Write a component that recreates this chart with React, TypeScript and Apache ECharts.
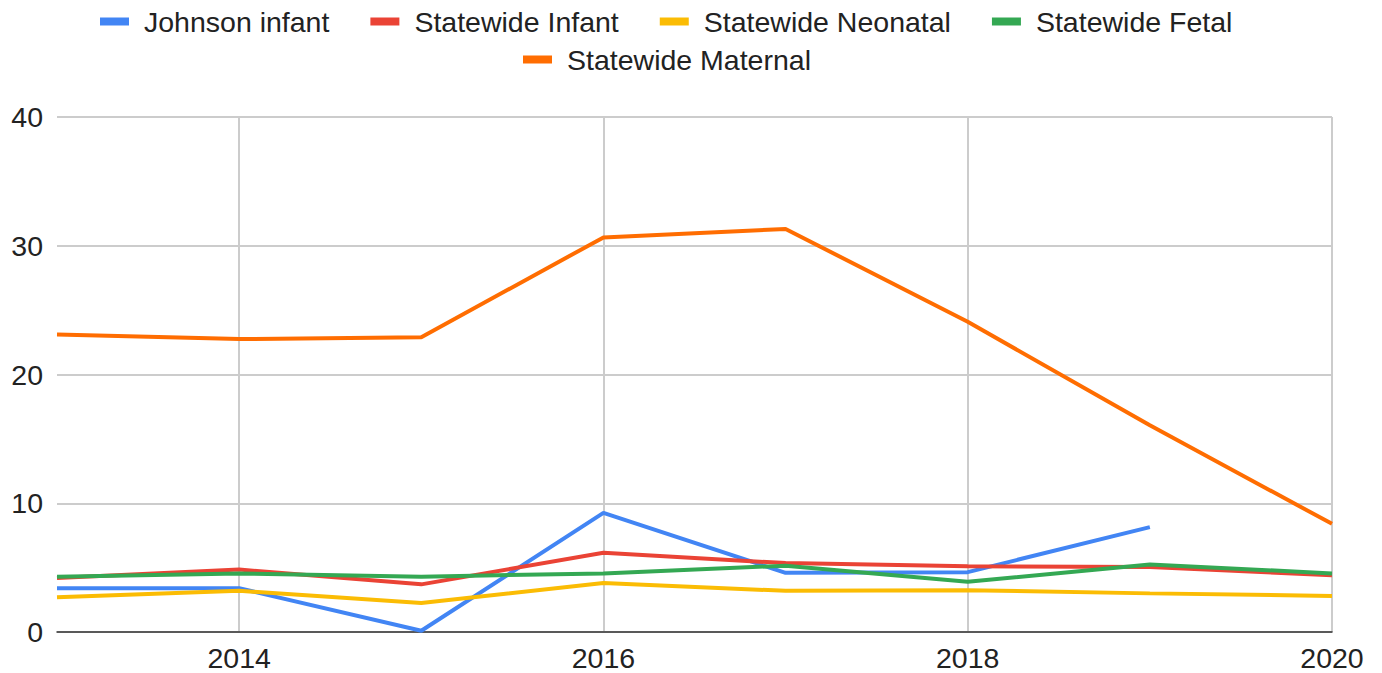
import React, { useEffect, useRef } from "react";
import * as echarts from "echarts";

const years = ["2013", "2014", "2015", "2016", "2017", "2018", "2019", "2020"];
const johnsonInfant = [3.4, 3.4, 0.1, 9.25, 4.6, 4.65, 8.15, null];
const statewideInfant = [4.2, 4.85, 3.7, 6.15, 5.35, 5.1, 5.05, 4.4];
const statewideNeonatal = [2.7, 3.2, 2.25, 3.8, 3.2, 3.25, 3.0, 2.8];
const statewideFetal = [4.3, 4.55, 4.3, 4.55, 5.15, 3.9, 5.25, 4.55];
const statewideMaternal = [23.1, 22.75, 22.9, 30.65, 31.3, 24.1, 16.05, 8.4];

const seriesNames = [
  "Johnson infant",
  "Statewide Infant",
  "Statewide Neonatal",
  "Statewide Fetal",
  "Statewide Maternal",
];
const seriesData = [johnsonInfant, statewideInfant, statewideNeonatal, statewideFetal, statewideMaternal];
const colors = ["#4285F4", "#EA4335", "#FBBC04", "#34A853", "#FF6D01"];

export default function App() {
  const ref = useRef<HTMLDivElement>(null);
  useEffect(() => {
    if (!ref.current) return;
    const chart = echarts.init(ref.current, null, { renderer: "svg" });
    const font = "Arial, 'Liberation Sans', sans-serif";
    const legendText = { color: "#222", fontSize: 28.5, fontFamily: font, padding: [0, 0, 0, 10] };
    chart.setOption({
      animation: false,
      color: colors,
      legend: [
        {
          data: seriesNames.slice(0, 4),
          left: 95,
          top: 2,
          itemWidth: 29,
          itemHeight: 8,
          itemGap: 41,
          icon: "rect",
          textStyle: legendText,
        },
        {
          data: seriesNames.slice(4),
          left: 518,
          top: 40,
          itemWidth: 29,
          itemHeight: 8,
          icon: "rect",
          textStyle: legendText,
        },
      ],
      grid: { left: 57, right: 50, top: 117, bottom: 41, containLabel: false },
      xAxis: {
        type: "category",
        data: years,
        boundaryGap: false,
        axisLine: { show: true, lineStyle: { color: "#333", width: 1.5 } },
        axisTick: { show: false },
        axisLabel: {
          interval: (i: number) => i % 2 === 1,
          color: "#222",
          fontSize: 28.5,
          fontFamily: font,
          margin: 11,
        },
        splitLine: {
          show: true,
          interval: (i: number) => i % 2 === 1,
          lineStyle: { color: "#cccccc", width: 2 },
        },
      },
      yAxis: {
        type: "value",
        min: 0,
        max: 40,
        interval: 10,
        axisLine: { show: false },
        axisTick: { show: false },
        axisLabel: { color: "#222", fontSize: 28.5, fontFamily: font, margin: 14 },
        splitLine: { show: true, lineStyle: { color: "#cccccc", width: 2 } },
      },
      series: seriesNames.map((name, i) => ({
        name,
        type: "line",
        data: seriesData[i],
        showSymbol: false,
        symbol: "none",
        connectNulls: false,
        lineStyle: { width: 4, color: colors[i] },
        itemStyle: { color: colors[i] },
      })),
    });
    return () => chart.dispose();
  }, []);
  return (
    <div
      ref={ref}
      style={{ position: "fixed", left: 0, top: 0, width: 1382, height: 673, background: "#fff" }}
    />
  );
}
